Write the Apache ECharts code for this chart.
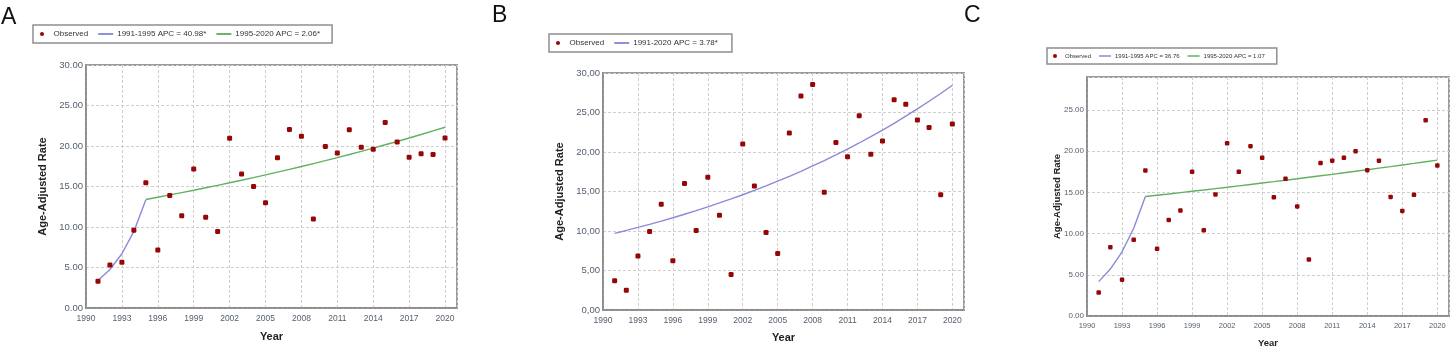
<!DOCTYPE html>
<html>
<head>
<meta charset="utf-8">
<script src="https://cdn.jsdelivr.net/npm/echarts@6/dist/echarts.min.js"></script>
<style>
  html, body { margin: 0; padding: 0; background: #fff; }
  #chart { width: 1450px; height: 348px; }
</style>
</head>
<body>
<div id="chart"></div>
<script>
  // observed rates, 1991-2020
  const years = [1991, 1992, 1993, 1994, 1995, 1996, 1997, 1998, 1999, 2000,
    2001, 2002, 2003, 2004, 2005, 2006, 2007, 2008, 2009, 2010,
    2011, 2012, 2013, 2014, 2015, 2016, 2017, 2018, 2019, 2020];

  const obsA = [3.3, 5.3, 5.65, 9.6, 15.45, 7.15, 13.9, 11.4, 17.15, 11.2,
    9.45, 20.95, 16.55, 15.0, 13.0, 18.55, 22.05, 21.2, 11.0, 19.95,
    19.15, 22.0, 19.85, 19.6, 22.9, 20.5, 18.6, 19.05, 18.95, 21.0];
  const obsB = [3.7, 2.5, 6.85, 9.95, 13.4, 6.25, 16.0, 10.05, 16.8, 12.0,
    4.5, 21.0, 15.7, 9.8, 7.15, 22.4, 27.1, 28.55, 14.9, 21.2,
    19.4, 24.6, 19.7, 21.4, 26.6, 26.05, 24.05, 23.1, 14.6, 23.55];
  const obsC = [2.85, 8.35, 4.4, 9.25, 17.65, 8.15, 11.65, 12.8, 17.5, 10.4,
    14.75, 20.95, 17.5, 20.6, 19.2, 14.4, 16.65, 13.3, 6.85, 18.55,
    18.85, 19.2, 20.0, 17.7, 18.85, 14.45, 12.75, 14.7, 23.75, 18.25];

  // fitted joinpoint segments
  const seg1Years = [1991, 1992, 1993, 1994, 1995];
  const seg2Years = [1995, 1996, 1997, 1998, 1999, 2000, 2001, 2002, 2003, 2004,
    2005, 2006, 2007, 2008, 2009, 2010, 2011, 2012, 2013, 2014,
    2015, 2016, 2017, 2018, 2019, 2020];
  const fitA1 = [3.4, 4.75, 6.7, 9.45, 13.35];
  const fitA2 = [13.4, 13.68, 13.96, 14.25, 14.54, 14.84, 15.14, 15.46, 15.77, 16.1,
    16.43, 16.77, 17.12, 17.47, 17.83, 18.19, 18.57, 18.95, 19.34, 19.74,
    20.15, 20.56, 20.99, 21.42, 21.86, 22.31];
  const fitB = [9.7, 10.07, 10.45, 10.84, 11.25, 11.68, 12.12, 12.58, 13.05, 13.55,
    14.06, 14.59, 15.14, 15.71, 16.31, 16.92, 17.56, 18.23, 18.92, 19.63,
    20.37, 21.14, 21.94, 22.77, 23.63, 24.53, 25.45, 26.42, 27.41, 28.45];
  const fitC1 = [4.17, 5.7, 7.79, 10.65, 14.5];
  const fitC2 = [14.5, 14.66, 14.81, 14.97, 15.13, 15.29, 15.46, 15.62, 15.79, 15.96,
    16.13, 16.3, 16.48, 16.65, 16.83, 17.01, 17.19, 17.38, 17.56, 17.75,
    17.94, 18.13, 18.33, 18.52, 18.72, 18.92];

  const namesA = ['1991-1995 APC = 40.98*', '1995-2020 APC = 2.06*'];
  const nameB = '1991-2020 APC = 3.78*';
  const namesC = ['1991-1995 APC = 36.76', '1995-2020 APC = 1.07'];

  const FONT = 'Liberation Sans';
  const RED = '#960606';
  const BLUE = '#8a8ad8';
  const GREEN = '#62b062';
  const LINE_ICON = 'path://M0,0H16V2H0Z';

  const zip = (xs, ys) => xs.map((x, i) => [x, ys[i]]);

  const chart = echarts.init(document.getElementById('chart'));

  const panels = [
    { left: 86, top: 65, width: 371, height: 243, ymax: 30, comma: false,
      yFont: 9.5, xFont: 8.5, titleFont: 11, yGap: 38, xGap: 23 },
    { left: 603, top: 73, width: 361, height: 237, ymax: 30, comma: true,
      yFont: 9.5, xFont: 8.5, titleFont: 11, yGap: 38, xGap: 22 },
    { left: 1087, top: 77, width: 362, height: 239, ymax: 29, comma: false,
      yFont: 8, xFont: 7.5, titleFont: 9.5, yGap: 25, xGap: 22 },
  ];

  const grid = panels.map((p) => ({
    left: p.left, top: p.top, width: p.width, height: p.height,
    show: true, borderColor: '#9a9a9a', borderWidth: 2,
    containLabel: false, outerBoundsMode: 'none',
  }));

  const xAxis = panels.map((p, i) => ({
    type: 'value', gridIndex: i, min: 1990, max: 2021, interval: 3,
    name: 'Year', nameLocation: 'middle', nameGap: p.xGap,
    nameTextStyle: { fontFamily: FONT, fontWeight: 'bold', fontSize: p.titleFont, color: '#222' },
    axisLine: { lineStyle: { color: '#888', width: 1.5 } },
    axisTick: { show: false },
    axisLabel: { fontFamily: FONT, fontSize: p.xFont, color: '#556070', margin: 6,
      showMaxLabel: false, formatter: (v) => String(v) },
    splitLine: { show: true, lineStyle: { color: '#cfcfcf', type: [3, 2], width: 1 } },
  }));

  const yAxis = panels.map((p, i) => ({
    type: 'value', gridIndex: i, min: 0, max: p.ymax, interval: 5,
    name: 'Age-Adjusted Rate', nameLocation: 'middle', nameGap: p.yGap,
    nameMoveOverlap: false,
    nameTextStyle: { fontFamily: FONT, fontWeight: 'bold', fontSize: p.titleFont, color: '#222' },
    axisLine: { show: true, lineStyle: { color: '#888', width: 1.5 } },
    axisTick: { show: false },
    axisLabel: {
      fontFamily: FONT, fontSize: p.yFont, color: '#556070', margin: 3,
      showMaxLabel: p.ymax % 5 === 0,
      formatter: (v) => (p.comma ? v.toFixed(2).replace('.', ',') : v.toFixed(2)),
    },
    splitLine: { show: true, lineStyle: { color: '#cfcfcf', type: [3, 2], width: 1 } },
  }));

  const obsSeries = (idx, data) => ({
    name: 'Observed', type: 'scatter', xAxisIndex: idx, yAxisIndex: idx,
    symbol: 'roundRect', symbolSize: idx === 2 ? 4.5 : 5,
    itemStyle: { color: RED, opacity: 1 }, data: zip(years, data), z: 5,
  });
  const fitSeries = (idx, name, xs, ys, color) => ({
    name, type: 'line', xAxisIndex: idx, yAxisIndex: idx,
    symbol: 'none', smooth: false,
    lineStyle: { color, width: 1.4 }, itemStyle: { color },
    data: zip(xs, ys), z: 4,
  });

  const series = [
    obsSeries(0, obsA),
    fitSeries(0, namesA[0], seg1Years, fitA1, BLUE),
    fitSeries(0, namesA[1], seg2Years, fitA2, GREEN),
    obsSeries(1, obsB),
    fitSeries(1, nameB, years, fitB, BLUE),
    obsSeries(2, obsC),
    fitSeries(2, namesC[0], seg1Years, fitC1, BLUE),
    fitSeries(2, namesC[1], seg2Years, fitC2, GREEN),
  ];

  const legendBase = (left, top, names, fontSize, itemWidth, gap, pad) => ({
    left, top, orient: 'horizontal',
    data: [{ name: 'Observed', icon: 'circle' }].concat(names.map((n) => ({ name: n, icon: LINE_ICON }))),
    itemWidth, itemHeight: 4, itemGap: gap,
    padding: pad,
    borderColor: '#8f8f8f', borderWidth: 1.5, backgroundColor: '#fff',
    selectedMode: false,
    textStyle: { fontFamily: FONT, fontSize, color: '#333', padding: [0, 0, 0, -1] },
  });

  chart.setOption({
    animation: false,
    graphic: [
      { type: 'text', left: 1, top: 6, style: { text: 'A', fontFamily: FONT, fontSize: 23, fill: '#111' } },
      { type: 'text', left: 492, top: 4, style: { text: 'B', fontFamily: FONT, fontSize: 23, fill: '#111' } },
      { type: 'text', left: 964, top: 4, style: { text: 'C', fontFamily: FONT, fontSize: 23, fill: '#111' } },
    ],
    legend: [
      legendBase(33, 25, namesA, 8, 15, 10, [5, 12, 5, 7]),
      legendBase(549, 34, [nameB], 8, 15, 10, [5, 14, 5, 7]),
      legendBase(1047, 48, namesC, 6, 12, 8, [5, 12, 5, 6]),
    ],
    grid,
    xAxis,
    yAxis,
    series,
  });
</script>
</body>
</html>
